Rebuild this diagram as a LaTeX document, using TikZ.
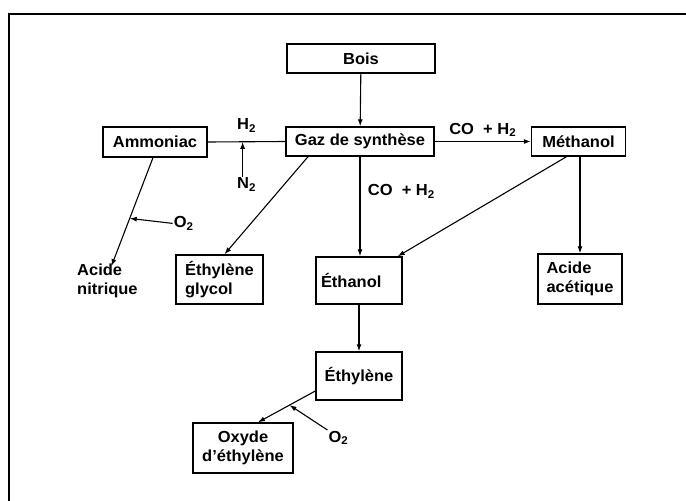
\documentclass[tikz,border=0pt]{standalone}
\usepackage{fontspec}
\setmainfont{Liberation Sans}[FakeStretch=1.03]
\usetikzlibrary{calc,arrows.meta,positioning}

\tikzset{
  box/.style={draw,line width=1.4pt,inner sep=0pt},
  flow/.style={line width=1.1pt,-{Latex[length=7pt,width=5pt]}},
  link/.style={line width=1.1pt},
  lbl/.style={inner sep=1pt}
}

\begin{document}
\begin{tikzpicture}[x=1pt,y=-1pt,font=\fontsize{16}{18.5}\selectfont\bfseries]
\useasboundingbox (0,0) rectangle (686,501);
% frame
\draw[line width=1.4pt] (9,501) -- (9,14) -- (686,14);
% boxes
\node[box,minimum width=148pt,minimum height=29pt] (bois) at (361,58.5) {Bois};
\node[box,minimum width=148pt,minimum height=29pt] (gaz) at (360,141.5) {Gaz de synthèse};
\node[box,minimum width=104pt,minimum height=30pt] (ammo) at (155,142) {Ammoniac};
\node[box,minimum width=94pt,minimum height=29pt] (meth) at (578.5,141.5) {Méthanol};
\node[box,minimum width=87pt,minimum height=49pt,align=left] (glycol) at (219.5,279.5) {Éthylène\\glycol};
\node[box,minimum width=86pt,minimum height=47pt,text width=76pt,align=left] (ethanol) at (359,280.5) {Éthanol};
\node[box,minimum width=84pt,minimum height=50pt,align=left] (acet) at (580,279) {Acide\\acétique};
\node[box,minimum width=86pt,minimum height=48pt] (ethyl) at (359,376) {Éthylène};
\node[box,minimum width=100pt,minimum height=50pt,align=center] (oxyde) at (243,448) {Oxyde\\d’éthylène};
\node[lbl,align=left,anchor=west] (nitr) at (76,281) {Acide\\nitrique};
% main flow
\draw[flow] (bois) -- (gaz);
\draw[link] (ammo.east) -- (gaz.west) coordinate[pos=0.45] (h2pt);
\node[lbl] (h2) at ($(h2pt)+(4,-16)$) {H\textsubscript{2}};
\node[lbl] (n2) at ($(h2pt)+(4,43)$) {N\textsubscript{2}};
\draw[flow] (n2.north -| h2pt) -- (h2pt);
\draw[flow] (gaz.east) -- (meth.west) node[midway,above=1pt] (co1) {CO\ \ + H\textsubscript{2}};
\draw[flow] (gaz.south) -- (gaz.south |- ethanol.north) node[pos=0.35,right=4pt] (co2) {CO\ \ + H\textsubscript{2}};
\draw[flow] ([xshift=-52pt]gaz.south) -- ([xshift=5pt]glycol.north);
\draw[flow] ([xshift=-2pt]ammo.south) -- ([xshift=4pt,yshift=-3pt]nitr.north) coordinate[pos=0.56] (o2pt);
\node[lbl] (o2a) at ($(o2pt)+(54,5)$) {O\textsubscript{2}};
\draw[flow] (o2a.west) -- (o2pt);
\draw[flow] ([xshift=-12pt]meth.south) -- ([xshift=-5pt]ethanol.north east);
\draw[flow] (acet.north |- meth.south) -- (acet.north);
\draw[flow] (ethanol) -- (ethyl);
\draw[flow] ([yshift=-15pt]ethyl.west) -- ([xshift=15pt]oxyde.north) coordinate[pos=0.45] (o2ptb);
\node[lbl] (o2b) at ($(o2ptb)+(49,33)$) {O\textsubscript{2}};
\draw[flow] (o2b.north west) -- (o2ptb);
\end{tikzpicture}
\end{document}
